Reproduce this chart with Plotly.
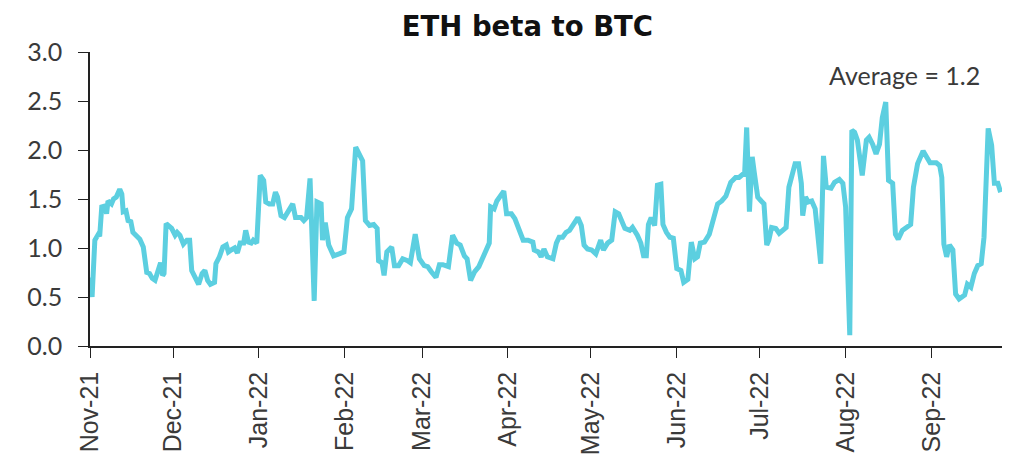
import plotly.graph_objects as go

# ETH beta to BTC
dates = [
    "2021-11-01 00:00", "2021-11-01 18:00", "2021-11-02 18:00", "2021-11-04 00:00", "2021-11-04 12:00",
    "2021-11-05 06:00", "2021-11-06 12:00", "2021-11-07 00:00", "2021-11-07 12:00", "2021-11-08 18:00",
    "2021-11-09 12:00", "2021-11-10 12:00", "2021-11-11 18:00", "2021-11-12 12:00", "2021-11-13 00:00",
    "2021-11-14 00:00", "2021-11-14 18:00", "2021-11-15 18:00", "2021-11-16 12:00", "2021-11-17 18:00",
    "2021-11-19 00:00", "2021-11-20 06:00", "2021-11-21 12:00", "2021-11-22 12:00", "2021-11-23 12:00",
    "2021-11-24 12:00", "2021-11-25 06:00", "2021-11-26 00:00", "2021-11-26 12:00", "2021-11-27 06:00",
    "2021-11-27 18:00", "2021-11-28 12:00", "2021-11-29 06:00", "2021-11-30 12:00",
    "2021-12-01 18:00", "2021-12-02 12:00", "2021-12-03 12:00", "2021-12-04 18:00", "2021-12-06 00:00",
    "2021-12-07 00:00", "2021-12-07 18:00", "2021-12-09 00:00", "2021-12-10 06:00", "2021-12-11 12:00",
    "2021-12-12 12:00", "2021-12-13 12:00", "2021-12-14 12:00", "2021-12-16 00:00", "2021-12-16 12:00",
    "2021-12-17 18:00", "2021-12-19 00:00", "2021-12-20 06:00", "2021-12-21 00:00", "2021-12-22 00:00",
    "2021-12-23 06:00", "2021-12-24 06:00", "2021-12-25 06:00", "2021-12-26 12:00", "2021-12-27 06:00",
    "2021-12-28 06:00", "2021-12-29 06:00", "2021-12-30 00:00", "2021-12-31 06:00",
    "2022-01-01 12:00", "2022-01-02 18:00", "2022-01-03 12:00", "2022-01-04 18:00", "2022-01-06 00:00",
    "2022-01-07 00:00", "2022-01-07 18:00", "2022-01-09 00:00", "2022-01-10 06:00", "2022-01-11 12:00",
    "2022-01-12 06:00", "2022-01-13 06:00", "2022-01-14 06:00", "2022-01-15 12:00", "2022-01-16 06:00",
    "2022-01-17 06:00", "2022-01-18 06:00", "2022-01-19 12:00", "2022-01-21 00:00", "2022-01-22 00:00",
    "2022-01-23 12:00", "2022-01-24 00:00", "2022-01-25 00:00", "2022-01-26 06:00", "2022-01-28 00:00",
    "2022-01-30 00:00", "2022-01-31 18:00",
    "2022-02-02 00:00", "2022-02-03 12:00", "2022-02-05 00:00", "2022-02-06 06:00", "2022-02-07 12:00",
    "2022-02-08 12:00", "2022-02-10 00:00", "2022-02-11 12:00", "2022-02-12 18:00", "2022-02-13 06:00",
    "2022-02-14 12:00", "2022-02-15 06:00", "2022-02-16 06:00", "2022-02-18 00:00", "2022-02-19 00:00",
    "2022-02-20 12:00", "2022-02-22 00:00", "2022-02-23 18:00", "2022-02-24 18:00", "2022-02-26 12:00",
    "2022-02-28 00:00",
    "2022-03-01 18:00", "2022-03-03 00:00", "2022-03-04 06:00", "2022-03-06 00:00", "2022-03-07 06:00",
    "2022-03-08 12:00", "2022-03-10 12:00", "2022-03-12 00:00", "2022-03-13 12:00", "2022-03-14 18:00",
    "2022-03-16 06:00", "2022-03-17 06:00", "2022-03-18 12:00", "2022-03-20 00:00", "2022-03-21 12:00",
    "2022-03-22 18:00", "2022-03-24 00:00", "2022-03-25 06:00", "2022-03-25 18:00", "2022-03-27 00:00",
    "2022-03-28 00:00", "2022-03-29 12:00", "2022-03-30 12:00", "2022-03-31 12:00",
    "2022-04-02 06:00", "2022-04-03 12:00", "2022-04-04 12:00", "2022-04-05 18:00", "2022-04-06 12:00",
    "2022-04-08 06:00", "2022-04-10 00:00", "2022-04-10 12:00", "2022-04-12 00:00", "2022-04-13 00:00",
    "2022-04-14 00:00", "2022-04-15 06:00", "2022-04-17 06:00", "2022-04-18 12:00", "2022-04-19 12:00",
    "2022-04-20 18:00", "2022-04-22 00:00", "2022-04-23 06:00", "2022-04-24 12:00", "2022-04-26 06:00",
    "2022-04-27 12:00", "2022-04-28 12:00", "2022-04-29 18:00",
    "2022-05-01 06:00", "2022-05-02 18:00", "2022-05-04 12:00", "2022-05-05 12:00", "2022-05-07 00:00",
    "2022-05-08 12:00", "2022-05-09 18:00", "2022-05-11 00:00", "2022-05-12 00:00", "2022-05-13 06:00",
    "2022-05-15 00:00", "2022-05-16 00:00", "2022-05-17 18:00", "2022-05-19 00:00", "2022-05-20 00:00",
    "2022-05-21 00:00", "2022-05-21 18:00", "2022-05-22 18:00", "2022-05-24 00:00", "2022-05-25 00:00",
    "2022-05-26 06:00", "2022-05-27 00:00", "2022-05-28 06:00", "2022-05-29 12:00", "2022-05-30 18:00",
    "2022-06-01 00:00", "2022-06-02 12:00", "2022-06-03 12:00", "2022-06-05 00:00", "2022-06-06 06:00",
    "2022-06-07 12:00", "2022-06-08 12:00", "2022-06-09 12:00", "2022-06-11 00:00", "2022-06-12 18:00",
    "2022-06-14 06:00", "2022-06-15 18:00", "2022-06-17 06:00", "2022-06-18 18:00", "2022-06-20 12:00",
    "2022-06-22 06:00", "2022-06-23 12:00", "2022-06-24 18:00", "2022-06-25 12:00", "2022-06-26 06:00",
    "2022-06-27 06:00", "2022-06-28 06:00", "2022-06-29 00:00", "2022-06-30 06:00",
    "2022-07-01 12:00", "2022-07-02 12:00", "2022-07-03 12:00", "2022-07-04 06:00", "2022-07-05 06:00",
    "2022-07-06 18:00", "2022-07-08 00:00", "2022-07-09 06:00", "2022-07-10 12:00", "2022-07-11 12:00",
    "2022-07-12 12:00", "2022-07-13 18:00", "2022-07-15 00:00", "2022-07-16 00:00", "2022-07-16 12:00",
    "2022-07-17 12:00", "2022-07-18 12:00", "2022-07-19 18:00", "2022-07-21 00:00", "2022-07-23 00:00",
    "2022-07-24 00:00", "2022-07-25 00:00", "2022-07-26 18:00", "2022-07-28 00:00", "2022-07-29 18:00",
    "2022-07-31 00:00",
    "2022-08-01 00:00", "2022-08-01 18:00", "2022-08-02 12:00", "2022-08-03 06:00", "2022-08-04 06:00",
    "2022-08-05 06:00", "2022-08-06 06:00", "2022-08-07 00:00", "2022-08-07 12:00", "2022-08-08 12:00",
    "2022-08-09 12:00", "2022-08-10 18:00", "2022-08-12 00:00", "2022-08-13 06:00", "2022-08-14 06:00",
    "2022-08-15 12:00", "2022-08-16 12:00", "2022-08-18 00:00", "2022-08-19 00:00", "2022-08-20 00:00",
    "2022-08-21 12:00", "2022-08-22 18:00", "2022-08-24 12:00", "2022-08-25 12:00", "2022-08-27 00:00",
    "2022-08-29 00:00", "2022-08-30 06:00", "2022-08-31 12:00",
    "2022-09-01 12:00", "2022-09-02 18:00", "2022-09-04 00:00", "2022-09-04 18:00", "2022-09-05 12:00",
    "2022-09-06 12:00", "2022-09-07 12:00", "2022-09-08 18:00", "2022-09-09 18:00", "2022-09-11 00:00",
    "2022-09-13 00:00", "2022-09-14 00:00", "2022-09-15 06:00", "2022-09-16 12:00", "2022-09-17 18:00",
    "2022-09-19 00:00", "2022-09-20 00:00", "2022-09-20 18:00", "2022-09-21 12:00", "2022-09-22 18:00",
    "2022-09-23 18:00", "2022-09-25 00:00", "2022-09-26 00:00",
]

beta = [
    0.70, 0.50, 1.08, 1.14, 1.12, 1.42, 1.43, 1.35, 1.48, 1.45,
    1.50, 1.52, 1.60, 1.55, 1.37, 1.38, 1.28, 1.27, 1.16, 1.13,
    1.09, 1.01, 0.75, 0.74, 0.69, 0.67, 0.74, 0.84, 0.85, 0.72,
    0.74, 1.25, 1.23, 1.20,
    1.13, 1.16, 1.13, 1.04, 1.08, 1.08, 0.77, 0.69, 0.63, 0.74,
    0.77, 0.67, 0.63, 0.65, 0.84, 0.91, 1.01, 1.03, 0.96, 0.98,
    1.00, 0.95, 1.05, 1.05, 1.18, 1.06, 1.05, 1.08, 1.05,
    1.74, 1.69, 1.47, 1.45, 1.45, 1.57, 1.52, 1.33, 1.31, 1.38,
    1.41, 1.45, 1.31, 1.31, 1.31, 1.28, 1.31, 1.71, 0.46, 1.47,
    1.45, 1.08, 1.26, 1.03, 0.92, 0.94, 0.96,
    1.31, 1.40, 2.03, 1.96, 1.89, 1.28, 1.23, 1.24, 1.20, 0.87,
    0.85, 0.72, 0.96, 1.01, 0.82, 0.82, 0.89, 0.87, 0.85, 1.14,
    0.89,
    0.82, 0.81, 0.76, 0.70, 0.83, 0.83, 0.81, 1.13, 1.05, 1.03,
    0.92, 0.89, 0.67, 0.76, 0.81, 0.89, 0.99, 1.05, 1.42, 1.40,
    1.48, 1.55, 1.58, 1.35,
    1.35, 1.30, 1.23, 1.16, 1.08, 1.08, 1.06, 0.98, 0.96, 0.91,
    0.99, 0.91, 0.89, 1.05, 1.11, 1.11, 1.16, 1.18, 1.23, 1.31,
    1.23, 1.03, 0.99,
    0.98, 0.94, 1.08, 0.98, 1.05, 1.08, 1.37, 1.35, 1.28, 1.20,
    1.18, 1.21, 1.13, 1.05, 0.92, 0.92, 1.24, 1.31, 1.23, 1.64,
    1.65, 1.24, 1.16, 1.11, 1.10,
    0.79, 0.77, 0.65, 0.68, 1.06, 0.89, 0.91, 1.05, 1.06, 1.14,
    1.28, 1.45, 1.48, 1.53, 1.67, 1.72, 1.72, 1.75, 1.75, 2.23,
    1.37, 1.93, 1.77, 1.52,
    1.48, 1.45, 1.03, 1.08, 1.21, 1.20, 1.15, 1.18, 1.21, 1.62,
    1.74, 1.86, 1.86, 1.66, 1.33, 1.52, 1.47, 1.48, 1.40, 0.84,
    1.94, 1.62, 1.61, 1.67, 1.70, 1.66,
    1.42, 0.74, 0.11, 2.20, 2.18, 2.10, 1.86, 1.74, 1.86, 2.10,
    2.13, 2.06, 1.96, 2.06, 2.33, 2.49, 1.69, 1.66, 1.14, 1.09,
    1.18, 1.21, 1.24, 1.62, 1.86, 1.99, 1.94, 1.87,
    1.87, 1.87, 1.84, 1.72, 1.04, 0.91, 1.03, 0.98, 0.53, 0.48,
    0.52, 0.63, 0.60, 0.74, 0.82, 0.84, 1.11, 1.77, 2.22, 2.05,
    1.66, 1.66, 1.57,
]

title_text = "ETH beta to BTC"
average_label = "Average = 1.2"
x_start = "2021-11-01"
x_end = "2022-09-26 12:00"

FONT = "Lato"
TEXT = "#3a3a3a"
AXIS = "#222222"

fig = go.Figure()
fig.add_trace(go.Scatter(
    x=dates, y=beta, mode="lines",
    line=dict(color="#5CCFE0", width=5),
    hoverinfo="x+y", showlegend=False,
))

fig.update_layout(
    width=997, height=452,
    margin=dict(l=82, r=3, t=44, b=114),
    paper_bgcolor="white", plot_bgcolor="white",
    font=dict(family=FONT, color=TEXT, size=24),
    title=dict(text="<b>" + title_text + "</b>", x=0.521, xanchor="center",
               y=0.960, yanchor="middle",
               font=dict(family="DejaVu Sans", size=27.5, color="#111111")),
    xaxis=dict(
        type="date", range=[x_start, x_end],
        tick0=x_start, dtick="M1", tickformat="%b-%y",
        tickangle=-90, ticks="outside", ticklen=10, tickwidth=1.3, tickcolor=AXIS,
        showline=True, linecolor=AXIS, linewidth=1.5,
        showgrid=False, zeroline=False, ticklabelstandoff=4,
        tickfont=dict(family="Liberation Sans", size=25, color=TEXT),
    ),
    yaxis=dict(
        range=[0, 3], tick0=0, dtick=0.5, tickformat=".1f",
        ticks="outside", ticklen=10, tickwidth=1.3, tickcolor=AXIS,
        showline=True, linecolor=AXIS, linewidth=1.5,
        showgrid=False, zeroline=False, ticklabelstandoff=11,
        tickfont=dict(family=FONT, size=25, color=TEXT),
    ),
    annotations=[dict(
        text=average_label, xref="paper", yref="paper",
        x=0.978, y=0.921, xanchor="right", yanchor="middle",
        showarrow=False, font=dict(family=FONT, size=25, color=TEXT),
    )],
)

fig.write_html("out.html")
